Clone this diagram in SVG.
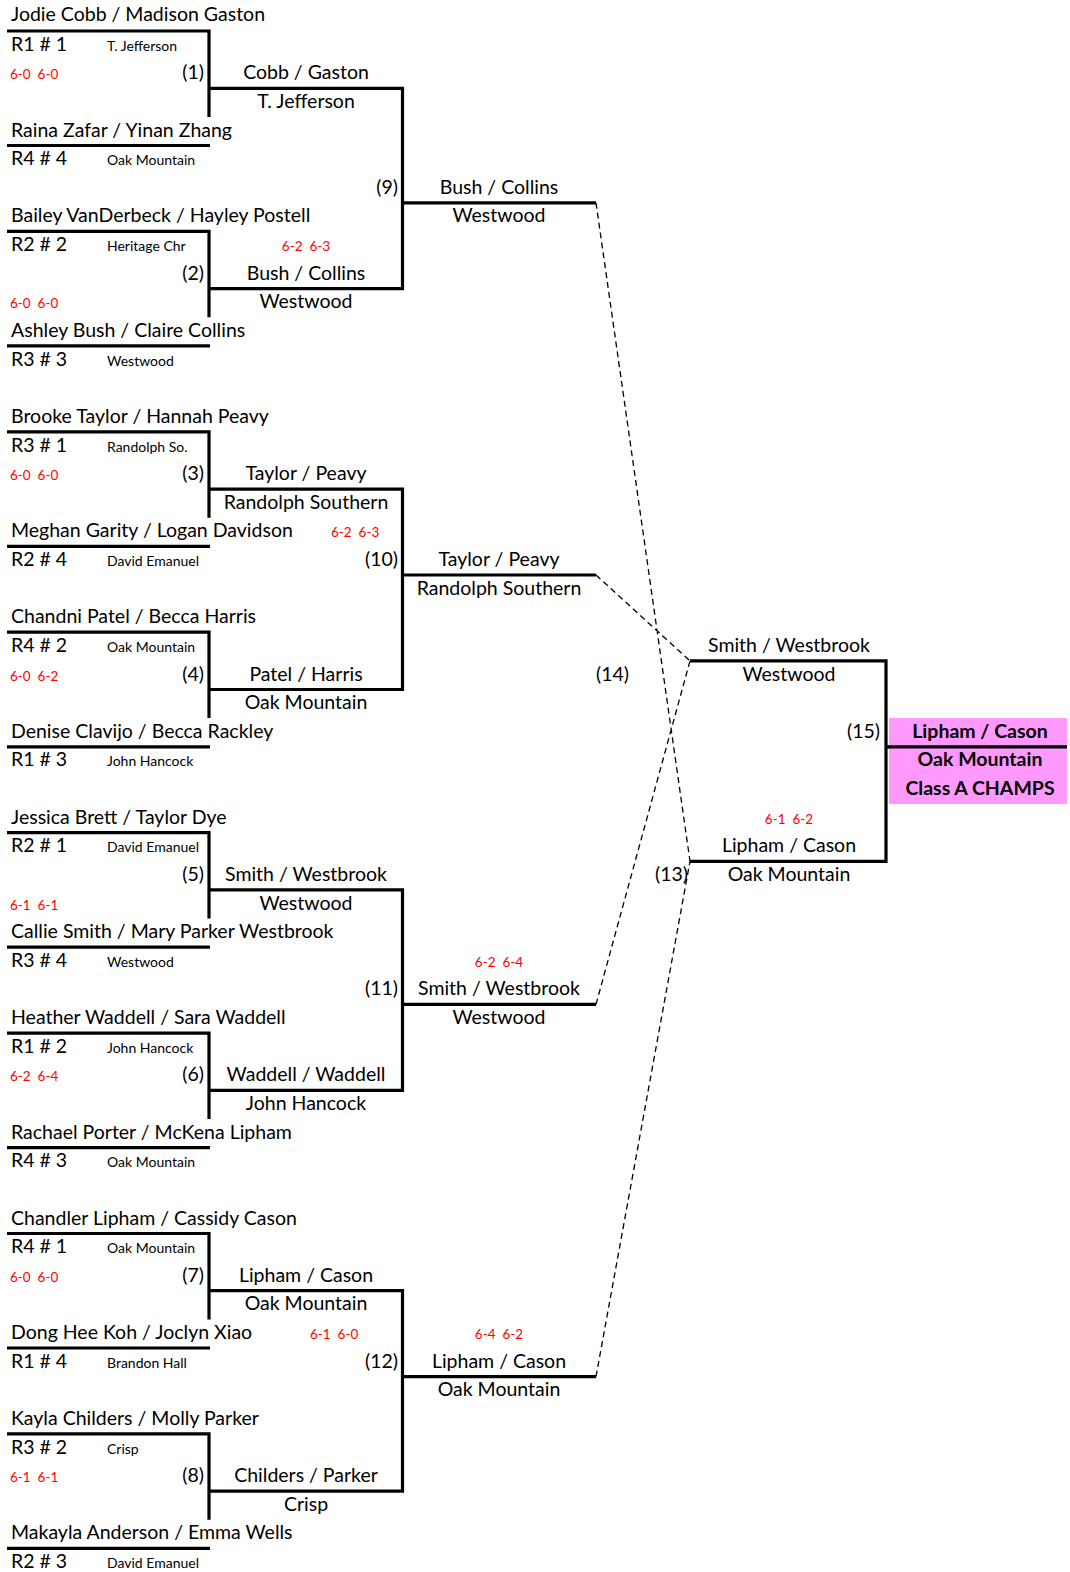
<svg xmlns="http://www.w3.org/2000/svg" width="1070" height="1572" viewBox="0 0 1070 1572">
<style>
text{font-family:Lato,"Noto Sans",sans-serif;fill:#000}
.n{font-size:19.5px}
.s{font-size:14px}
.r{font-size:13.5px;fill:#ff0000}
.c{text-anchor:middle}
.e{text-anchor:end}
.b{font-weight:bold}
.ln{fill:none;stroke:#000;stroke-width:3.2;stroke-linejoin:miter}
.d{fill:none;stroke:#000;stroke-width:1.3;stroke-dasharray:6 4}
</style>
<rect width="1070" height="1572" fill="#fff"/>
<g id="connectors">
<path class="ln" d="M7 31 H209 V116.9 M7 145.5 H210 M209 88.3 H402.5 V288.7 H209 M7 231.4 H209 V317.3 M7 345.9 H210 M402.5 202.8 H596"/>
<path class="ln" d="M7 431.8 H209 V517.7 M7 546.3 H210 M209 489.1 H402.5 V689.5 H209 M7 632.2 H209 V718.1 M7 746.8 H210 M402.5 575 H596"/>
<path class="ln" d="M7 832.6 H209 V918.5 M7 947.2 H210 M209 889.9 H402.5 V1090.3 H209 M7 1033.1 H209 V1118.9 M7 1147.6 H210 M402.5 1004.4 H596"/>
<path class="ln" d="M7 1233.5 H209 V1319.4 M7 1348 H210 M209 1290.7 H402.5 V1491.1 H209 M7 1433.9 H209 V1519.8 M7 1548.4 H210 M402.5 1376.6 H596"/>
<path class="ln" d="M690 660.9 H886 V861.3 H690 M886 746.8 H1067"/>
<path class="d" d="M596 202.8 L690 861.3 M596 575 L690 660.9 M596 1004.4 L690 660.9 M596 1376.6 L690 861.3"/>
</g>
<g id="m1">
<text class="n" x="11" y="21">Jodie Cobb / Madison Gaston</text>
<text class="n" x="11" y="50.6">R1 # 1</text>
<text class="s" x="107" y="50.6">T. Jefferson</text>
<text class="r" x="10" y="79.3" xml:space="preserve">6-0  6-0</text>
<text class="n e" x="204" y="79.3">(1)</text>
<text class="n" x="11" y="136.5">Raina Zafar / Yinan Zhang</text>
<text class="n" x="11" y="165.2">R4 # 4</text>
<text class="s" x="107" y="165.2">Oak Mountain</text>
<text class="n c" x="306" y="79.3">Cobb / Gaston</text>
<text class="n c" x="306" y="107.9">T. Jefferson</text>
</g>
<g id="m2">
<text class="n" x="11" y="222.4">Bailey VanDerbeck / Hayley Postell</text>
<text class="n" x="11" y="251">R2 # 2</text>
<text class="s" x="107" y="251">Heritage Chr</text>
<text class="r c" x="306" y="251" xml:space="preserve">6-2  6-3</text>
<text class="n e" x="204" y="279.7">(2)</text>
<text class="n c" x="306" y="279.7">Bush / Collins</text>
<text class="n c" x="306" y="308.3">Westwood</text>
<text class="r" x="10" y="308.3" xml:space="preserve">6-0  6-0</text>
<text class="n" x="11" y="336.9">Ashley Bush / Claire Collins</text>
<text class="n" x="11" y="365.6">R3 # 3</text>
<text class="s" x="107" y="365.6">Westwood</text>
</g>
<g id="m9">
<text class="n e" x="398" y="193.8">(9)</text>
<text class="n c" x="499" y="193.8">Bush / Collins</text>
<text class="n c" x="499" y="222.4">Westwood</text>
</g>
<g id="m3">
<text class="n" x="11" y="422.8">Brooke Taylor / Hannah Peavy</text>
<text class="n" x="11" y="451.5">R3 # 1</text>
<text class="s" x="107" y="451.5">Randolph So.</text>
<text class="r" x="10" y="480.1" xml:space="preserve">6-0  6-0</text>
<text class="n e" x="204" y="480.1">(3)</text>
<text class="n c" x="306" y="480.1">Taylor / Peavy</text>
<text class="n c" x="306" y="508.7">Randolph Southern</text>
<text class="n" x="11" y="537.3">Meghan Garity / Logan Davidson</text>
<text class="r" x="331" y="537.3" xml:space="preserve">6-2  6-3</text>
<text class="n" x="11" y="566">R2 # 4</text>
<text class="s" x="107" y="566">David Emanuel</text>
</g>
<g id="m4">
<text class="n" x="11" y="623.2">Chandni Patel / Becca Harris</text>
<text class="n" x="11" y="651.9">R4 # 2</text>
<text class="s" x="107" y="651.9">Oak Mountain</text>
<text class="r" x="10" y="680.5" xml:space="preserve">6-0  6-2</text>
<text class="n e" x="204" y="680.5">(4)</text>
<text class="n c" x="306" y="680.5">Patel / Harris</text>
<text class="n c" x="306" y="709.1">Oak Mountain</text>
<text class="n" x="11" y="737.8">Denise Clavijo / Becca Rackley</text>
<text class="n" x="11" y="766.4">R1 # 3</text>
<text class="s" x="107" y="766.4">John Hancock</text>
</g>
<g id="m10">
<text class="n e" x="398" y="566">(10)</text>
<text class="n c" x="499" y="566">Taylor / Peavy</text>
<text class="n c" x="499" y="594.6">Randolph Southern</text>
</g>
<g id="m14">
<text class="n c" x="789" y="651.9">Smith / Westbrook</text>
<text class="n c" x="789" y="680.5">Westwood</text>
<text class="n e" x="629" y="680.5">(14)</text>
</g>
<g id="m15">
<text class="n e" x="880" y="737.8">(15)</text>
<rect x="889" y="718.1" width="178" height="85.9" fill="#ff99ff"/>
<path class="ln" d="M886 746.8 H1067"/>
<text class="n c b" x="980" y="737.8">Lipham / Cason</text>
<text class="n c b" x="980" y="766.4">Oak Mountain</text>
<text class="n c b" x="980" y="795">Class A CHAMPS</text>
</g>
<g id="m13">
<text class="r c" x="789" y="823.6" xml:space="preserve">6-1  6-2</text>
<text class="n c" x="789" y="852.3">Lipham / Cason</text>
<text class="n c" x="789" y="880.9">Oak Mountain</text>
<text class="n e" x="688" y="880.9">(13)</text>
</g>
<g id="m5">
<text class="n" x="11" y="823.6">Jessica Brett / Taylor Dye</text>
<text class="n" x="11" y="852.3">R2 # 1</text>
<text class="s" x="107" y="852.3">David Emanuel</text>
<text class="n e" x="204" y="880.9">(5)</text>
<text class="n c" x="306" y="880.9">Smith / Westbrook</text>
<text class="n c" x="306" y="909.5">Westwood</text>
<text class="r" x="10" y="909.5" xml:space="preserve">6-1  6-1</text>
<text class="n" x="11" y="938.2">Callie Smith / Mary Parker Westbrook</text>
<text class="n" x="11" y="966.8">R3 # 4</text>
<text class="s" x="107" y="966.8">Westwood</text>
</g>
<g id="m11">
<text class="r c" x="499" y="966.8" xml:space="preserve">6-2  6-4</text>
<text class="n e" x="398" y="995.4">(11)</text>
<text class="n c" x="499" y="995.4">Smith / Westbrook</text>
<text class="n c" x="499" y="1024">Westwood</text>
</g>
<g id="m6">
<text class="n" x="11" y="1024">Heather Waddell / Sara Waddell</text>
<text class="n" x="11" y="1052.7">R1 # 2</text>
<text class="s" x="107" y="1052.7">John Hancock</text>
<text class="r" x="10" y="1081.3" xml:space="preserve">6-2  6-4</text>
<text class="n e" x="204" y="1081.3">(6)</text>
<text class="n c" x="306" y="1081.3">Waddell / Waddell</text>
<text class="n c" x="306" y="1109.9">John Hancock</text>
<text class="n" x="11" y="1138.6">Rachael Porter / McKena Lipham</text>
<text class="n" x="11" y="1167.2">R4 # 3</text>
<text class="s" x="107" y="1167.2">Oak Mountain</text>
</g>
<g id="m7">
<text class="n" x="11" y="1224.5">Chandler Lipham / Cassidy Cason</text>
<text class="n" x="11" y="1253.1">R4 # 1</text>
<text class="s" x="107" y="1253.1">Oak Mountain</text>
<text class="r" x="10" y="1281.7" xml:space="preserve">6-0  6-0</text>
<text class="n e" x="204" y="1281.7">(7)</text>
<text class="n c" x="306" y="1281.7">Lipham / Cason</text>
<text class="n c" x="306" y="1310.4">Oak Mountain</text>
<text class="n" x="11" y="1339">Dong Hee Koh / Joclyn Xiao</text>
<text class="r" x="310" y="1339" xml:space="preserve">6-1  6-0</text>
<text class="n" x="11" y="1367.6">R1 # 4</text>
<text class="s" x="107" y="1367.6">Brandon Hall</text>
</g>
<g id="m12">
<text class="r c" x="499" y="1339" xml:space="preserve">6-4  6-2</text>
<text class="n e" x="398" y="1367.6">(12)</text>
<text class="n c" x="499" y="1367.6">Lipham / Cason</text>
<text class="n c" x="499" y="1396.2">Oak Mountain</text>
</g>
<g id="m8">
<text class="n" x="11" y="1424.9">Kayla Childers / Molly Parker</text>
<text class="n" x="11" y="1453.5">R3 # 2</text>
<text class="s" x="107" y="1453.5">Crisp</text>
<text class="r" x="10" y="1482.1" xml:space="preserve">6-1  6-1</text>
<text class="n e" x="204" y="1482.1">(8)</text>
<text class="n c" x="306" y="1482.1">Childers / Parker</text>
<text class="n c" x="306" y="1510.8">Crisp</text>
<text class="n" x="11" y="1539.4">Makayla Anderson / Emma Wells</text>
<text class="n" x="11" y="1568">R2 # 3</text>
<text class="s" x="107" y="1568">David Emanuel</text>
</g>
</svg>
